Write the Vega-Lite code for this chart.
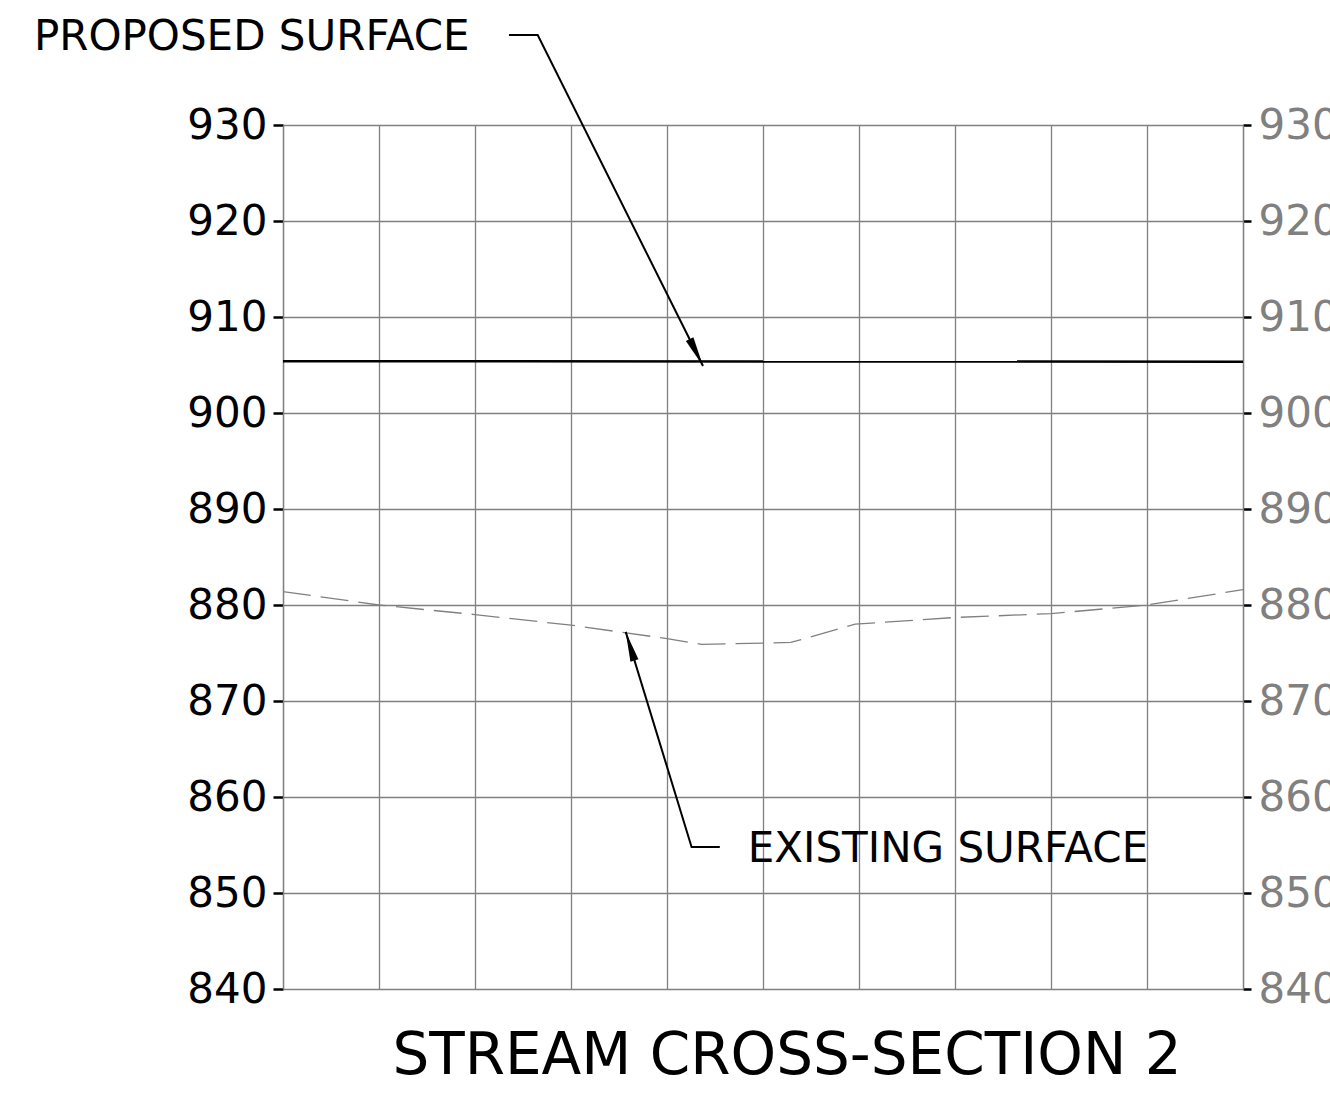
{
  "$schema": "https://vega.github.io/schema/vega-lite/v6.json",
  "width": 960,
  "height": 864,
  "autosize": {"type": "none"},
  "padding": {"left": 283, "top": 125, "right": 87, "bottom": 107},
  "background": "white",
  "config": {"view": {"stroke": null}, "font": "DejaVu Sans"},
  "title": {
    "text": "STREAM CROSS-SECTION 2",
    "orient": "bottom",
    "anchor": "middle",
    "frame": "group",
    "fontSize": 58,
    "fontWeight": "normal",
    "font": "DejaVu Sans",
    "color": "black",
    "offset": 18,
    "dx": 24
  },
  "datasets": {
    "existing": [
      {"station": 0, "elev": 881.4},
      {"station": 10, "elev": 880.0},
      {"station": 20, "elev": 879.0},
      {"station": 30, "elev": 877.9},
      {"station": 40, "elev": 876.5},
      {"station": 43.6, "elev": 875.9},
      {"station": 52.9, "elev": 876.1},
      {"station": 59.6, "elev": 878.0},
      {"station": 70, "elev": 878.7},
      {"station": 80, "elev": 879.1},
      {"station": 90, "elev": 880.0},
      {"station": 100, "elev": 881.6}
    ],
    "proposed": [
      {"station": 0, "elev": 905.4},
      {"station": 100, "elev": 905.35}
    ],
    "leaders": [
      {"id": "proposed", "order": 1, "x": 23.54, "y": 939.375},
      {"id": "proposed", "order": 2, "x": 26.53, "y": 939.375},
      {"id": "proposed", "order": 3, "x": 43.75, "y": 904.9},
      {"id": "existing", "order": 1, "x": 45.5, "y": 854.8},
      {"id": "existing", "order": 2, "x": 42.56, "y": 854.8},
      {"id": "existing", "order": 3, "x": 35.7, "y": 877.2}
    ],
    "arrows": [
      {"x": 43.75, "y": 904.9, "angle": 153.5},
      {"x": 35.7, "y": 877.2, "angle": 343.1}
    ],
    "labels": [
      {"x": -25.94, "y": 937.81, "label": "PROPOSED SURFACE"},
      {"x": 48.41, "y": 853.23, "label": "EXISTING SURFACE"}
    ]
  },
  "resolve": {"scale": {"x": "shared", "y": "shared"}, "axis": {"x": "independent", "y": "independent"}},
  "layer": [
    {
      "data": {"name": "existing"},
      "mark": {"type": "line", "color": "#808080", "strokeWidth": 1.3, "strokeDash": [28, 10]},
      "encoding": {
        "x": {
          "field": "station", "type": "quantitative",
          "scale": {"domain": [0, 100], "nice": false, "zero": false},
          "axis": {
            "grid": true, "values": [0, 10, 20, 30, 40, 50, 60, 70, 80, 90, 100],
            "labels": false, "ticks": false, "domain": false, "title": null,
            "gridColor": "#808080", "gridWidth": 1.3, "gridOpacity": 1
          }
        },
        "y": {
          "field": "elev", "type": "quantitative",
          "scale": {"domain": [840, 930], "nice": false, "zero": false},
          "axis": {
            "orient": "left", "values": [840, 850, 860, 870, 880, 890, 900, 910, 920, 930],
            "format": "d", "title": null,
            "grid": true, "gridColor": "#808080", "gridWidth": 1.3, "gridOpacity": 1,
            "domainColor": "#808080", "domainWidth": 1.3,
            "tickColor": "black", "tickSize": 10, "tickWidth": 2.5,
            "labelColor": "black", "labelFontSize": 42, "labelFont": "DejaVu Sans",
            "labelPadding": 6, "labelFlush": false, "labelOverlap": false
          }
        }
      }
    },
    {
      "data": {"name": "proposed"},
      "mark": {"type": "line", "color": "black", "strokeWidth": 2.5},
      "encoding": {
        "x": {"field": "station", "type": "quantitative", "scale": {"domain": [0, 100], "nice": false, "zero": false}, "axis": null},
        "y": {
          "field": "elev", "type": "quantitative",
          "scale": {"domain": [840, 930], "nice": false, "zero": false},
          "axis": {
            "orient": "right", "values": [840, 850, 860, 870, 880, 890, 900, 910, 920, 930],
            "format": "d", "title": null, "grid": false,
            "domainColor": "#808080", "domainWidth": 1.3,
            "tickColor": "black", "tickSize": 8, "tickWidth": 2.5,
            "labelColor": "#808080", "labelFontSize": 42, "labelFont": "DejaVu Sans",
            "labelPadding": 7, "labelFlush": false, "labelOverlap": false
          }
        }
      }
    },
    {
      "data": {"name": "leaders"},
      "mark": {"type": "line", "color": "black", "strokeWidth": 2},
      "encoding": {
        "x": {"field": "x", "type": "quantitative", "scale": {"domain": [0, 100], "nice": false, "zero": false}, "axis": null},
        "y": {"field": "y", "type": "quantitative", "scale": {"domain": [840, 930], "nice": false, "zero": false}, "axis": null},
        "detail": {"field": "id"},
        "order": {"field": "order", "type": "quantitative"}
      }
    },
    {
      "data": {"name": "arrows"},
      "mark": {"type": "point", "shape": "M0,0 L-0.14,1 L0.14,1 Z", "filled": true, "color": "black", "opacity": 1, "size": 3600, "strokeWidth": 0},
      "encoding": {
        "x": {"field": "x", "type": "quantitative", "scale": {"domain": [0, 100], "nice": false, "zero": false}, "axis": null},
        "y": {"field": "y", "type": "quantitative", "scale": {"domain": [840, 930], "nice": false, "zero": false}, "axis": null},
        "angle": {"field": "angle", "type": "quantitative", "scale": null}
      }
    },
    {
      "data": {"name": "labels"},
      "mark": {"type": "text", "align": "left", "baseline": "alphabetic", "font": "DejaVu Sans", "fontSize": 42, "color": "black"},
      "encoding": {
        "x": {"field": "x", "type": "quantitative", "scale": {"domain": [0, 100], "nice": false, "zero": false}, "axis": null},
        "y": {"field": "y", "type": "quantitative", "scale": {"domain": [840, 930], "nice": false, "zero": false}, "axis": null},
        "text": {"field": "label"}
      }
    }
  ]
}
